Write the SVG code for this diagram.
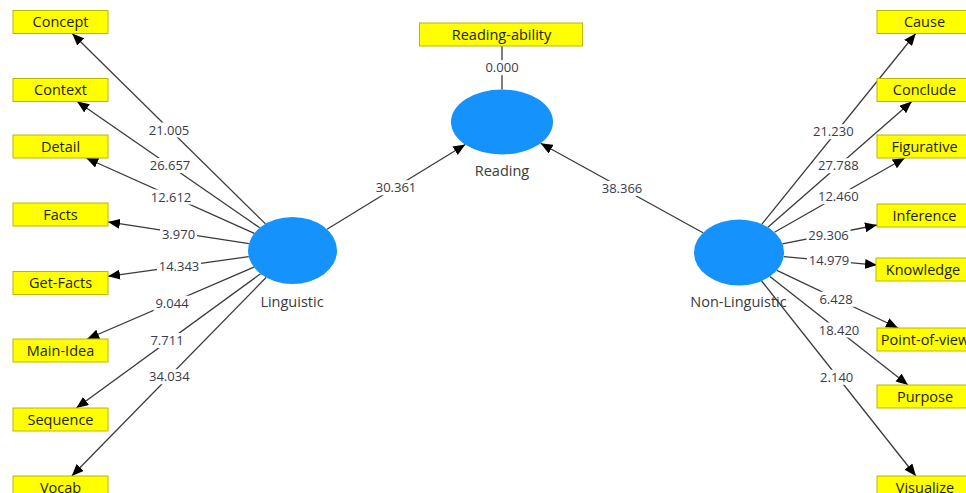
<svg xmlns="http://www.w3.org/2000/svg" width="966" height="493" viewBox="0 0 966 493">
<style>
.bg{fill:#ffffff}
.ind rect{fill:#ffff00;stroke:#b8b800;stroke-width:1}
.ind text{font-family:"Open Sans","DejaVu Sans",sans-serif;font-size:14.5px;fill:#1e1e00;text-anchor:middle}
.lv ellipse{fill:#1592fb}
.lv text{font-family:"Open Sans","DejaVu Sans",sans-serif;font-size:14.5px;fill:#3a3a3a;text-anchor:middle}
.conn line{stroke:#3a3a3a;stroke-width:1.3;fill:none}
.conn line.arr{marker-end:url(#ah)}
.lbl rect{fill:#ffffff}
.lbl text{font-family:"Open Sans","DejaVu Sans",sans-serif;font-size:13px;fill:#3a3a4a;text-anchor:middle}
</style>
<defs>
<marker id="ah" markerUnits="userSpaceOnUse" markerWidth="13" markerHeight="10" refX="12" refY="5" orient="auto">
<path d="M0,0 L12,5 L0,10 Z" fill="#000000"/>
</marker>
</defs>
<rect class="bg" x="0" y="0" width="966" height="493"/>

<g id="connectors" class="conn">
<line class="arr" x1="265.5" y1="223.9" x2="72.2" y2="33.5"/>
<line class="arr" x1="259.7" y1="227.8" x2="77.1" y2="101.5"/>
<line class="arr" x1="254.3" y1="233.4" x2="86.2" y2="158"/>
<line class="arr" x1="248.9" y1="243.7" x2="108" y2="221.9"/>
<line class="arr" x1="248.8" y1="256.6" x2="108" y2="276.3"/>
<line class="arr" x1="253.9" y1="267.2" x2="87.2" y2="339"/>
<line class="arr" x1="260.5" y1="273.8" x2="76.3" y2="408"/>
<line class="arr" x1="266.1" y1="277.5" x2="71.8" y2="476"/>
<line class="arr" x1="761.9" y1="224.1" x2="915.7" y2="33.5"/>
<line class="arr" x1="767.9" y1="227.2" x2="911.8" y2="101.5"/>
<line class="arr" x1="774.5" y1="232.3" x2="904.8" y2="158"/>
<line class="arr" x1="782.4" y1="243.9" x2="877" y2="225"/>
<line class="arr" x1="783.7" y1="256.6" x2="877" y2="265.1"/>
<line class="arr" x1="776.9" y1="270.3" x2="898" y2="328"/>
<line class="arr" x1="769.9" y1="276.5" x2="908" y2="385"/>
<line class="arr" x1="761.6" y1="281" x2="915.9" y2="476"/>
<line class="arr" x1="327" y1="229.3" x2="465.3" y2="144.5"/>
<line class="arr" x1="703" y1="232.7" x2="540.6" y2="143.3"/>
<line x1="502" y1="46" x2="502" y2="89.5"/>
</g>

<g id="labels" class="lbl">
<rect x="147" y="122.5" width="44" height="15"/><text x="169" y="134.5">21.005</text>
<rect x="148" y="158" width="44" height="15"/><text x="170" y="170">26.657</text>
<rect x="149" y="189.5" width="44" height="15"/><text x="171" y="201.5">12.612</text>
<rect x="160" y="226.5" width="37" height="15"/><text x="178.5" y="238.5">3.970</text>
<rect x="157" y="259" width="44" height="15"/><text x="179" y="271">14.343</text>
<rect x="153.5" y="295.8" width="37" height="15"/><text x="172" y="307.8">9.044</text>
<rect x="148.5" y="333" width="37" height="15"/><text x="167" y="345">7.711</text>
<rect x="147.3" y="369.2" width="44" height="15"/><text x="169.3" y="381.2">34.034</text>
<rect x="811.3" y="124.2" width="44" height="15"/><text x="833.3" y="136.2">21.230</text>
<rect x="816.3" y="158.2" width="44" height="15"/><text x="838.3" y="170.2">27.788</text>
<rect x="816.3" y="189.2" width="44" height="15"/><text x="838.3" y="201.2">12.460</text>
<rect x="806.5" y="227.5" width="44" height="15"/><text x="828.5" y="239.5">29.306</text>
<rect x="807" y="253.2" width="44" height="15"/><text x="829" y="265.2">14.979</text>
<rect x="817.5" y="291.8" width="37" height="15"/><text x="836" y="303.8">6.428</text>
<rect x="817" y="322.5" width="44" height="15"/><text x="839" y="334.5">18.420</text>
<rect x="818.2" y="369.8" width="37" height="15"/><text x="836.7" y="381.8">2.140</text>
<rect x="374" y="180.2" width="44" height="15"/><text x="396" y="192.2">30.361</text>
<rect x="600" y="181" width="44" height="15"/><text x="622" y="193">38.366</text>
<rect x="483.5" y="60.2" width="37" height="15"/><text x="502" y="72.2">0.000</text>
</g>

<g id="Reading" class="lv"><ellipse cx="502" cy="122" rx="51" ry="32.5"/><text x="502" y="176">Reading</text></g>
<g id="Linguistic" class="lv"><ellipse cx="292.5" cy="250.5" rx="44.5" ry="33.5"/><text x="292" y="306.5">Linguistic</text></g>
<g id="Non-Linguistic" class="lv"><ellipse cx="739" cy="252.5" rx="45" ry="33"/><text x="738.5" y="306.5">Non-Linguistic</text></g>

<g id="Reading-ability" class="ind"><rect x="419.5" y="23" width="163" height="23"/><text x="501.5" y="39.5">Reading-ability</text></g>

<g id="Concept" class="ind"><rect x="13" y="10.5" width="95" height="23"/><text x="60.5" y="27">Concept</text></g>
<g id="Context" class="ind"><rect x="13" y="78.5" width="95" height="23"/><text x="60.5" y="95">Context</text></g>
<g id="Detail" class="ind"><rect x="13" y="135" width="95" height="23"/><text x="60.5" y="151.5">Detail</text></g>
<g id="Facts" class="ind"><rect x="13" y="203" width="95" height="23"/><text x="60.5" y="219.5">Facts</text></g>
<g id="Get-Facts" class="ind"><rect x="13" y="271.5" width="95" height="23"/><text x="60.5" y="288">Get-Facts</text></g>
<g id="Main-Idea" class="ind"><rect x="13" y="339" width="95" height="23"/><text x="60.5" y="355.5">Main-Idea</text></g>
<g id="Sequence" class="ind"><rect x="13" y="408" width="95" height="23"/><text x="60.5" y="424.5">Sequence</text></g>
<g id="Vocab" class="ind"><rect x="13" y="476" width="95" height="23"/><text x="60.5" y="492.5">Vocab</text></g>

<g id="Cause" class="ind"><rect x="877" y="10.5" width="96" height="23"/><text x="924.5" y="27">Cause</text></g>
<g id="Conclude" class="ind"><rect x="877" y="78.5" width="96" height="23"/><text x="924.5" y="95">Conclude</text></g>
<g id="Figurative" class="ind"><rect x="877" y="135" width="96" height="23"/><text x="924.5" y="151.5">Figurative</text></g>
<g id="Inference" class="ind"><rect x="877" y="204" width="96" height="23"/><text x="924.5" y="220.5">Inference</text></g>
<g id="Knowledge" class="ind"><rect x="876" y="258" width="97" height="23"/><text x="923" y="274.5">Knowledge</text></g>
<g id="Point-of-view" class="ind"><rect x="877" y="328" width="96" height="23"/><text x="925" y="344.5">Point-of-view</text></g>
<g id="Purpose" class="ind"><rect x="877" y="385" width="96" height="23"/><text x="925" y="401.5">Purpose</text></g>
<g id="Visualize" class="ind"><rect x="877" y="476" width="96" height="23"/><text x="925" y="492.5">Visualize</text></g>
</svg>
